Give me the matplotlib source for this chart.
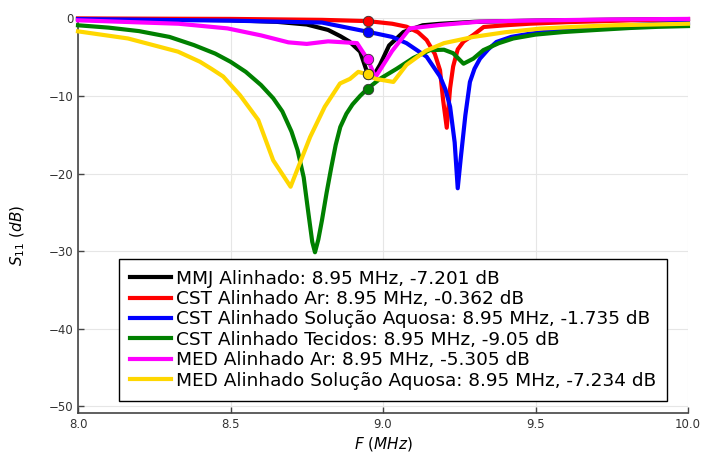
import matplotlib
matplotlib.use("Agg")
import matplotlib.pyplot as plt

# Frequency sweep points (MHz) and reflection coefficient S11 (dB) per setup
mmj_f = [8.0, 8.3, 8.5, 8.65, 8.75, 8.82, 8.86, 8.89, 8.925, 8.95, 8.966, 8.99, 9.02, 9.067, 9.13, 9.19, 9.3, 9.5, 9.75, 10.0]
mmj_s = [-0.08, -0.15, -0.25, -0.45, -0.8, -1.5, -2.3, -3.0, -4.3, -7.201, -7.6, -6.0, -3.5, -1.77, -0.9, -0.7, -0.45, -0.3, -0.18, -0.1]

cst_ar_f = [8.0, 8.5, 8.8, 8.95, 9.03, 9.077, 9.115, 9.143, 9.17, 9.187, 9.197, 9.209, 9.22, 9.23, 9.245, 9.264, 9.296, 9.33, 9.4, 9.48, 9.6, 9.7, 9.85, 10.0]
cst_ar_s = [-0.02, -0.08, -0.2, -0.362, -0.7, -1.08, -1.8, -2.8, -4.6, -6.7, -10.5, -14.1, -9.0, -6.2, -4.0, -3.0, -2.15, -1.12, -0.9, -0.7, -0.5, -0.39, -0.22, -0.1]

cst_sol_f = [8.0, 8.5, 8.8, 8.95, 9.03, 9.077, 9.143, 9.187, 9.205, 9.22, 9.235, 9.245, 9.255, 9.27, 9.285, 9.3, 9.318, 9.345, 9.372, 9.42, 9.482, 9.6, 9.7, 9.85, 10.0]
cst_sol_s = [-0.1, -0.3, -0.55, -1.735, -2.4, -3.2, -4.95, -7.5, -9.2, -11.4, -16.0, -21.9, -18.0, -12.5, -8.2, -6.5, -5.2, -4.0, -3.05, -2.4, -1.98, -1.45, -1.12, -0.8, -0.55]

cst_tec_f = [8.0, 8.1, 8.2, 8.3, 8.38, 8.45, 8.5, 8.55, 8.6, 8.64, 8.67, 8.7, 8.72, 8.74, 8.755, 8.768, 8.777, 8.788, 8.8, 8.815, 8.83, 8.845, 8.86, 8.88, 8.9, 8.925, 8.95, 8.99, 9.045, 9.1, 9.154, 9.2, 9.23, 9.264, 9.296, 9.329, 9.38, 9.427, 9.5, 9.591, 9.7, 9.809, 9.9, 10.0]
cst_tec_s = [-0.9, -1.2, -1.65, -2.4, -3.45, -4.55, -5.6, -6.9, -8.6, -10.3, -12.0, -14.6, -17.0, -20.5, -25.0, -28.8, -30.15, -28.5, -26.0, -22.5, -19.3, -16.3, -14.0, -12.3, -11.1, -10.0, -9.05, -7.8, -6.5, -5.1, -4.1, -4.05, -4.5, -5.85, -5.2, -4.1, -3.2, -2.6, -2.1, -1.77, -1.5, -1.25, -1.1, -1.0]

med_ar_f = [8.0, 8.33, 8.49, 8.6, 8.69, 8.75, 8.82, 8.915, 8.95, 8.975, 9.03, 9.088, 9.187, 9.318, 9.5, 9.75, 10.0]
med_ar_s = [-0.26, -0.7, -1.3, -2.2, -3.1, -3.3, -2.97, -3.2, -5.305, -7.6, -4.2, -1.3, -0.86, -0.43, -0.28, -0.15, -0.08]

med_sol_f = [8.0, 8.164, 8.328, 8.4, 8.437, 8.476, 8.531, 8.591, 8.64, 8.697, 8.761, 8.809, 8.859, 8.892, 8.919, 8.95, 8.975, 9.034, 9.077, 9.14, 9.2, 9.296, 9.4, 9.515, 9.63, 9.755, 9.88, 10.0]
med_sol_s = [-1.68, -2.6, -4.3, -5.6, -6.5, -7.5, -9.9, -13.1, -18.3, -21.7, -15.3, -11.4, -8.4, -7.8, -6.9, -7.234, -7.8, -8.2, -6.0, -4.2, -3.2, -2.4, -1.8, -1.33, -1.1, -0.9, -0.8, -0.7]

labels = [
    "MMJ Alinhado: 8.95 MHz, -7.201 dB",
    "CST Alinhado Ar: 8.95 MHz, -0.362 dB",
    "CST Alinhado Solução Aquosa: 8.95 MHz, -1.735 dB",
    "CST Alinhado Tecidos: 8.95 MHz, -9.05 dB",
    "MED Alinhado Ar: 8.95 MHz, -5.305 dB",
    "MED Alinhado Solução Aquosa: 8.95 MHz, -7.234 dB",
]
colors = ["black", "#ff0000", "#0000ff", "#008000", "#ff00ff", "#ffd700"]

# Operating point marked on each curve
marker_f = 8.95
marker_s = [-7.201, -0.362, -1.735, -9.05, -5.305, -7.234]

series = [
    (mmj_f, mmj_s), (cst_ar_f, cst_ar_s), (cst_sol_f, cst_sol_s),
    (cst_tec_f, cst_tec_s), (med_ar_f, med_ar_s), (med_sol_f, med_sol_s),
]

fig = plt.figure(figsize=(7.03, 4.54), dpi=100)
ax = fig.add_axes([78 / 703, 1 - 413 / 454, 610 / 703, (413 - 18.3) / 454])

for (f, s), c, lab in zip(series, colors, labels):
    ax.plot(f, s, color=c, lw=3, label=lab, clip_on=False, zorder=3,
            solid_joinstyle="round")
for s, c in zip(marker_s, colors):
    ax.plot([marker_f], [s], "o", color=c, markersize=7.5, markeredgecolor="#333333",
            markeredgewidth=0.6, zorder=5, clip_on=False)

ax.set_xlim(8.0, 10.0)
ax.set_ylim(-50.86, 0)
ax.set_xticks([8.0, 8.5, 9.0, 9.5, 10.0])
ax.set_xticklabels(["8.0", "8.5", "9.0", "9.5", "10.0"])
ax.set_yticks([0, -10, -20, -30, -40, -50])
ax.grid(True, color="#e6e6e6", lw=0.8, zorder=0)
ax.set_axisbelow(True)
for side in ("top", "right"):
    ax.spines[side].set_visible(False)
for side in ("left", "bottom"):
    ax.spines[side].set_color("#444444")
    ax.spines[side].set_linewidth(1.2)
ax.tick_params(direction="in", length=4, width=1, color="#444444",
               labelsize=8.5, labelcolor="#333333")

ax.set_xlabel(r"$F\ (MHz)$", fontsize=11, labelpad=3)
ax.set_ylabel(r"$S_{11}\ (dB)$", fontsize=11)
ax.yaxis.set_label_coords(-0.083, 0.45)

leg = ax.legend(loc="lower left", bbox_to_anchor=(0.0677, 0.031), fontsize=13.3,
                frameon=True, fancybox=False, edgecolor="black", framealpha=1,
                handlelength=2.2, handletextpad=0.28, labelspacing=0.13,
                borderpad=0.6, borderaxespad=0)
leg.get_frame().set_linewidth(1.0)
leg.set_zorder(10)

fig.savefig("out.png", dpi=100)
